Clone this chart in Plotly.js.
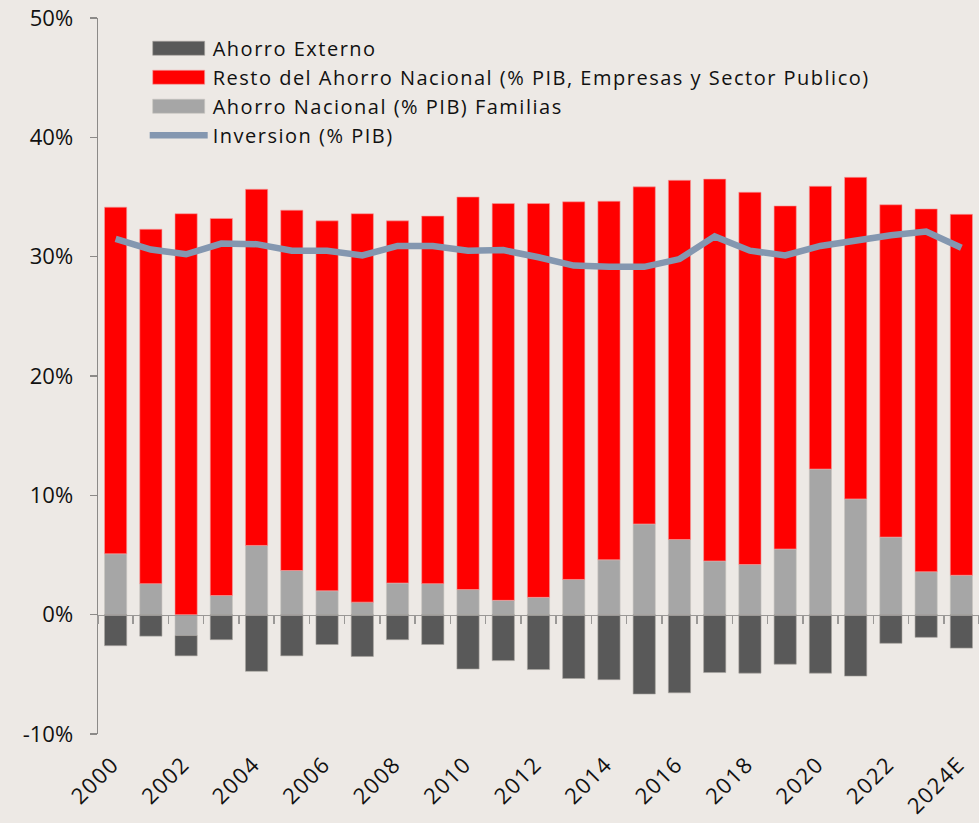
<!DOCTYPE html>
<html>
<head>
<meta charset="utf-8">
<script src="https://cdn.plot.ly/plotly-3.0.1.min.js"></script>
<style>
  html, body { margin: 0; padding: 0; background: #ede9e5; }
  #chart { width: 979px; height: 823px; }
  .legendtext { letter-spacing: 1.5px; }
  .xtick text { letter-spacing: 1.5px; }
  g.legendpoints path { transform: translate(34px, 0px) scale(4.33, 1.17) !important; vector-effect: non-scaling-stroke; }
</style>
</head>
<body>
<div id="chart"></div>
<script>
const years = ["2000","2001","2002","2003","2004","2005","2006","2007","2008","2009","2010","2011","2012",
               "2013","2014","2015","2016","2017","2018","2019","2020","2021","2022","2023","2024E"];
const tickYears = ["2000","2002","2004","2006","2008","2010","2012","2014","2016","2018","2020","2022","2024E"];

// Ahorro Externo (% PIB) - negative values
const ahorroExterno = [-2.6,-1.8,-1.7,-2.1,-4.75,-3.45,-2.5,-3.5,-2.1,-2.5,-4.55,-3.85,-4.6,
                       -5.35,-5.45,-6.65,-6.55,-4.85,-4.9,-4.15,-4.9,-5.15,-2.4,-1.9,-2.8];
// Ahorro Nacional Familias (% PIB)
const ahorroFamilias = [5.1,2.6,-1.75,1.6,5.8,3.7,2.0,1.05,2.65,2.6,2.1,1.2,1.45,
                        2.95,4.6,7.6,6.3,4.5,4.2,5.5,12.2,9.7,6.5,3.6,3.3];
// Resto del Ahorro Nacional (% PIB, Empresas y Sector Publico)
const restoAhorro = [29.05,29.7,33.6,31.6,29.85,30.2,31.0,32.55,30.35,30.8,32.9,33.25,33.0,
                     31.65,30.05,28.25,30.1,32.0,31.2,28.75,23.7,26.95,27.85,30.4,30.25];
// Inversion (% PIB)
const inversion = [31.5,30.6,30.2,31.1,31.05,30.5,30.5,30.1,30.9,30.9,30.5,30.55,29.95,
                   29.25,29.15,29.15,29.8,31.7,30.5,30.1,30.9,31.4,31.8,32.1,30.75];

const FONT = "Open Sans, Noto Sans, sans-serif";

const traces = [
  {
    type: "bar", name: "Ahorro Nacional (% PIB) Familias",
    x: years, y: ahorroFamilias, legendrank: 3,
    marker: { color: "#a6a6a6", line: { color: "#c8c4c0", width: 0.6 } }
  },
  {
    type: "bar", name: "Resto del Ahorro Nacional (% PIB, Empresas y Sector Publico)",
    x: years, y: restoAhorro, legendrank: 2,
    marker: { color: "#ff0000", line: { color: "#f4a0a0", width: 0.6 } }
  },
  {
    type: "bar", name: "Ahorro Externo",
    x: years, y: ahorroExterno, legendrank: 1,
    marker: { color: "#595959", line: { color: "#a8a4a0", width: 0.6 } }
  },
  {
    type: "scatter", mode: "lines", name: "Inversion (% PIB)",
    x: years, y: inversion, xaxis: "x2", legendrank: 4,
    line: { color: "#8497b0", width: 6.5, shape: "linear" }
  }
];

const layout = {
  width: 979, height: 823,
  margin: { l: 98, r: 0, t: 18, b: 89 },
  paper_bgcolor: "#ede9e5",
  plot_bgcolor: "#ede9e5",
  barmode: "relative",
  bargap: 0.37,
  font: { family: FONT, size: 21, color: "#111111" },
  showlegend: true,
  legend: {
    x: 0.053, y: 0.985, xanchor: "left", yanchor: "top",
    bgcolor: "rgba(0,0,0,0)", font: { family: FONT, size: 20, color: "#111111" },
    tracegroupgap: 0, itemwidth: 58
  },
  xaxis: {
    type: "category", categoryorder: "array", categoryarray: years,
    range: [-0.5, 24.5],
    tickmode: "array", tickvals: tickYears, ticktext: tickYears,
    tickangle: -45, ticks: "", showline: false, showgrid: false, zeroline: false,
    ticklabelstandoff: 12, ticklabelshift: -3,
    tickfont: { family: FONT, size: 22, color: "#111111" }
  },
  xaxis2: {
    type: "category", categoryorder: "array", categoryarray: years,
    range: [-0.5, 24.5], overlaying: "x", anchor: "free", position: 10/60,
    side: "bottom", showticklabels: false, showgrid: false, zeroline: false,
    showline: true, linecolor: "#9a9896", linewidth: 1.5,
    ticks: "outside", tickson: "boundaries", ticklen: 8, tickcolor: "#9a9896", tickwidth: 1.5
  },
  yaxis: {
    range: [-10, 50], tickmode: "array",
    tickvals: [-10, 0, 10, 20, 30, 40, 50],
    ticktext: ["-10%", "0%", "10%", "20%", "30%", "40%", "50%"],
    showgrid: false, zeroline: false,
    showline: true, linecolor: "#8c8a88", linewidth: 1.5,
    ticks: "outside", ticklen: 7, tickcolor: "#8c8a88", tickwidth: 1.5,
    ticklabelstandoff: 12,
    tickfont: { family: FONT, size: 22, color: "#111111" }
  }
};

Plotly.newPlot("chart", traces, layout, { displayModeBar: false, staticPlot: true });
</script>
</body>
</html>
